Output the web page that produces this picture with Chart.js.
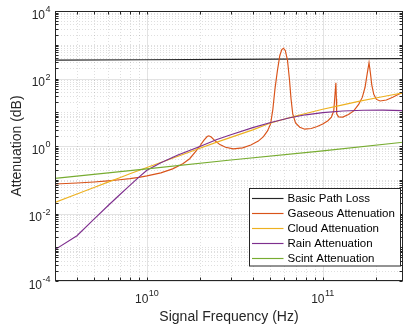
<!DOCTYPE html>
<html><head><meta charset="utf-8">
<script src="https://cdn.jsdelivr.net/npm/chart.js@4.4.1/dist/chart.umd.min.js"></script>
<style>html,body{margin:0;padding:0;background:#fff;overflow:hidden}canvas{display:block}</style>
</head><body>
<canvas id="c" width="404" height="332"></canvas>
<script>
// ---------------- data ----------------
const seriesLabels = ['Basic Path Loss', 'Gaseous Attenuation', 'Cloud Attenuation', 'Rain Attenuation', 'Scint Attenuation'];
const seriesColors = ['#262626', '#D95319', '#EDB120', '#7E2F8E', '#77AC30'];

const pathFreq = [3e9, 1e10, 3e10, 1e11, 3e11];
const pathLoss = [350, 360.5, 370, 380.5, 390];

const gasFreq = [3e9, 4e9, 5e9, 6e9, 7e9, 8e9, 9e9, 1e10, 1.2e10, 1.4e10, 1.6e10, 1.75e10, 1.9e10, 2.0e10, 2.1e10, 2.2e10, 2.25e10, 2.32e10, 2.45e10, 2.6e10, 2.8e10, 3.1e10, 3.5e10, 3.9e10, 4.3e10, 4.6e10, 4.85e10, 5.05e10, 5.2e10, 5.35e10, 5.53e10, 5.7e10, 5.85e10, 5.98e10, 6.12e10, 6.3e10, 6.47e10, 6.6e10, 6.75e10, 7.0e10, 7.4e10, 7.9e10, 8.6e10, 9.3e10, 1.0e11, 1.07e11, 1.12e11, 1.155e11, 1.172e11, 1.1875e11, 1.195e11, 1.2e11, 1.23e11, 1.3e11, 1.4e11, 1.5e11, 1.6e11, 1.68e11, 1.74e11, 1.79e11, 1.833e11, 1.865e11, 1.9e11, 1.95e11, 2.02e11, 2.12e11, 2.3e11, 2.5e11, 2.7e11, 3e11];
const gasAtten = [0.075, 0.08, 0.086, 0.093, 0.10, 0.108, 0.118, 0.13, 0.16, 0.21, 0.30, 0.42, 0.70, 1.0, 1.45, 1.9, 2.0, 1.85, 1.4, 1.1, 0.92, 0.82, 0.88, 1.07, 1.4, 1.9, 2.8, 4.5, 12, 50, 180, 480, 720, 790, 680, 350, 90, 25, 9, 4.8, 3.6, 3.15, 3.3, 3.8, 4.5, 5.6, 7.2, 11, 30, 75, 25, 9, 7.3, 7.2, 8.6, 11, 17, 28, 55, 140, 294, 150, 65, 34, 24, 21.5, 23, 28, 34, 44];

const cloudFreq = [3e9, 4e9, 5e9, 6e9, 7e9, 8e9, 1e10, 1.3e10, 1.6e10, 2e10, 2.5e10, 3e10, 4e10, 5e10, 6e10, 7e10, 8e10, 1e11, 1.3e11, 1.6e11, 2e11, 2.5e11, 3e11];
const cloudAtten = [0.0214, 0.038, 0.059, 0.085, 0.115, 0.15, 0.23, 0.38, 0.56, 0.86, 1.3, 1.8, 3.0, 4.7, 6.2, 7.7, 9.2, 12.3, 16.5, 21, 26.5, 33, 39];

const rainFreq = [3e9, 4e9, 5e9, 6e9, 7e9, 8e9, 9e9, 1e10, 1.2e10, 1.5e10, 2e10, 2.5e10, 3e10, 4e10, 5e10, 6.5e10, 8e10, 1e11, 1.3e11, 1.7e11, 2.2e11, 3e11];
const rainAtten = [8.5e-4, 2.2e-3, 6.8e-3, 0.017, 0.036, 0.068, 0.12, 0.19, 0.32, 0.54, 0.97, 1.55, 2.15, 3.5, 4.9, 6.9, 8.4, 9.7, 10.9, 11.5, 11.6, 11.1];

const scintFreq = [3e9, 1e10, 3e10, 1e11, 3e11];
const scintAtten = [0.11, 0.21, 0.385, 0.72, 1.33];

const xTickValues = [1e10, 1e11];
const xTickExps = ['10', '11'];
const yTickValues = [1e-4, 1e-2, 1, 1e2, 1e4];
const yTickExps = ['-4', '-2', '0', '2', '4'];

const xLimits = [3e9, 2.86e11];
const yLimits = [1e-4, 1e4];
const xTitle = 'Signal Frequency (Hz)';
const yTitle = 'Attenuation (dB)';

// ---------------- chart ----------------
const FONT = '"Liberation Sans", Arial, Helvetica, sans-serif';
const AXC = '#262626';

function pts(xs, ys) { return xs.map((v, i) => ({x: v, y: ys[i]})); }
const seriesData = [pts(pathFreq, pathLoss), pts(gasFreq, gasAtten), pts(cloudFreq, cloudAtten), pts(rainFreq, rainAtten), pts(scintFreq, scintAtten)];

const datasets = seriesData.map((d, i) => ({
  label: seriesLabels[i], data: d, borderColor: seriesColors[i], backgroundColor: seriesColors[i],
  borderWidth: 1.15, pointRadius: 0, tension: 0, fill: false, order: seriesLabels.length - i
}));

function subValues(min, max, isMajor) {
  const out = [];
  for (let d = Math.floor(Math.log10(min)) - 1; d <= Math.ceil(Math.log10(max)); d++) {
    for (let m = 1; m <= 9; m++) {
      const v = m * Math.pow(10, d);
      if (v >= min * 0.9999 && v <= max * 1.0001) out.push({v, major: isMajor(m, d)});
    }
  }
  return out;
}
const xGrid = subValues(xLimits[0], xLimits[1], (m, d) => m === 1);
const yGrid = subValues(yLimits[0], yLimits[1], (m, d) => m === 1 && d % 2 === 0);

function drawPow(ctx, exp, x, base, align) {
  ctx.font = '12px ' + FONT; const wb = ctx.measureText('10').width;
  ctx.font = '9px ' + FONT; const we = ctx.measureText(exp).width;
  const left = align === 'right' ? x - wb - we - 0.5 : x - (wb + we + 0.5) / 2;
  ctx.font = '12px ' + FONT; ctx.fillText('10', left, base);
  ctx.font = '9px ' + FONT; ctx.fillText(exp, left + wb + 0.5, base - 6.5);
}

const matlabAxes = {
  id: 'matlabAxes',
  beforeDatasetsDraw(chart) {
    const {ctx, chartArea: a, scales: {x, y}} = chart;
    ctx.save();
    ctx.lineWidth = 1;
    // minor grid (dotted)
    ctx.strokeStyle = 'rgba(38,38,38,0.15)';
    ctx.setLineDash([1, 2]);
    ctx.beginPath();
    xGrid.filter(g => !g.major).forEach(g => { const p = Math.round(x.getPixelForValue(g.v)) + 0.5; ctx.moveTo(p, a.top); ctx.lineTo(p, a.bottom); });
    yGrid.filter(g => !g.major).forEach(g => { const p = Math.round(y.getPixelForValue(g.v)) + 0.5; ctx.moveTo(a.left, p); ctx.lineTo(a.right, p); });
    ctx.stroke();
    // major grid (solid)
    ctx.setLineDash([]);
    ctx.strokeStyle = 'rgba(38,38,38,0.13)';
    ctx.beginPath();
    xGrid.filter(g => g.major).forEach(g => { const p = Math.round(x.getPixelForValue(g.v)) + 0.5; ctx.moveTo(p, a.top); ctx.lineTo(p, a.bottom); });
    yGrid.filter(g => g.major).forEach(g => { const p = Math.round(y.getPixelForValue(g.v)) + 0.5; ctx.moveTo(a.left, p); ctx.lineTo(a.right, p); });
    ctx.stroke();
    ctx.restore();
  },
  afterDatasetsDraw(chart) {
    const {ctx, chartArea: a, scales: {x, y}} = chart;
    ctx.save();
    ctx.lineWidth = 1;
    ctx.strokeStyle = AXC;
    const L = Math.round(a.left) + 0.5, R = Math.round(a.right) - 0.5, T = Math.round(a.top) + 0.5, B = Math.round(a.bottom) - 0.5;
    // ticks (inward, all four sides)
    ctx.beginPath();
    const tl = 3;
    xGrid.forEach(g => { const p = Math.round(x.getPixelForValue(g.v)) + 0.5; ctx.moveTo(p, B); ctx.lineTo(p, B - tl); ctx.moveTo(p, T); ctx.lineTo(p, T + tl); });
    yGrid.forEach(g => { const p = Math.round(y.getPixelForValue(g.v)) + 0.5; ctx.moveTo(L, p); ctx.lineTo(L + tl, p); ctx.moveTo(R, p); ctx.lineTo(R - tl, p); });
    ctx.stroke();
    // box
    ctx.strokeRect(L, T, R - L, B - T);

    // legend
    const lx = 249.5, ly = 188.5, lw = 151, lh = 77.5;
    ctx.fillStyle = '#fff';
    ctx.fillRect(lx, ly, lw, lh);
    ctx.strokeStyle = AXC;
    ctx.strokeRect(lx, ly, lw, lh);
    ctx.font = '11.5px ' + FONT;
    ctx.textBaseline = 'middle';
    ctx.textAlign = 'left';
    seriesLabels.forEach((lab, i) => {
      const cy = Math.round(198.3 + i * 14.85) + 0.5;
      ctx.strokeStyle = seriesColors[i];
      ctx.lineWidth = 1.15;
      ctx.beginPath(); ctx.moveTo(252, cy); ctx.lineTo(283.5, cy); ctx.stroke();
      ctx.fillStyle = '#000';
      ctx.fillText(lab, 287.5, cy + 0.5);
    });
    ctx.restore();
  },
  afterDraw(chart) {
    const {ctx, scales: {x, y}} = chart;
    ctx.save();
    ctx.fillStyle = AXC;
    ctx.textBaseline = 'alphabetic';
    ctx.textAlign = 'left';
    xTickValues.forEach((v, i) => drawPow(ctx, xTickExps[i], x.getPixelForValue(v), 302.5, 'center'));
    yTickValues.forEach((v, i) => drawPow(ctx, yTickExps[i], 50.5, y.getPixelForValue(v) + 7.5, 'right'));
    ctx.restore();
  }
};

new Chart(document.getElementById('c'), {
  type: 'line',
  data: {datasets},
  plugins: [matlabAxes],
  options: {
    responsive: false, animation: false, devicePixelRatio: 1, events: [],
    layout: {padding: {left: 0, top: 11, right: 1, bottom: 0}},
    plugins: {legend: {display: false}, tooltip: {enabled: false}},
    scales: {
      x: {
        type: 'logarithmic', min: xLimits[0], max: xLimits[1], bounds: 'data',
        ticks: {display: false}, grid: {display: false}, border: {display: false},
        title: {display: true, text: xTitle, color: AXC, font: {family: FONT, size: 14, lineHeight: 1.2}, padding: {top: 0, bottom: 6}},
        afterFit(s) { s.height = 51; }
      },
      y: {
        type: 'logarithmic', min: yLimits[0], max: yLimits[1], bounds: 'data',
        ticks: {display: false}, grid: {display: false}, border: {display: false},
        title: {display: true, text: yTitle, color: AXC, font: {family: FONT, size: 14, lineHeight: 1.2}, padding: {top: 8.4, bottom: 0}},
        afterFit(s) { s.width = 55; }
      }
    }
  }
});
</script>
</body></html>
